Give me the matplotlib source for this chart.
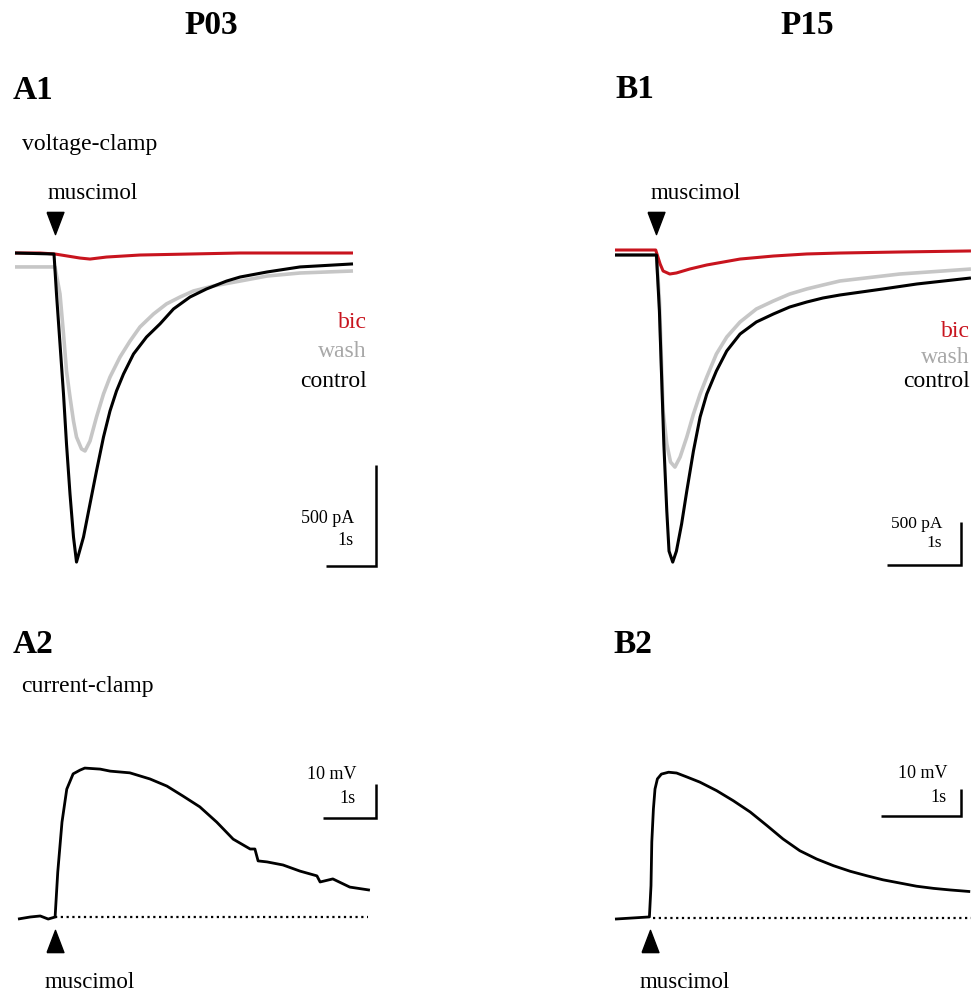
import matplotlib
matplotlib.use('Agg')
import matplotlib.pyplot as plt
from matplotlib.path import Path

plt.rcParams['font.family'] = ['Liberation Serif', 'DejaVu Serif']

W, H = 971, 995

## Voltage-clamp traces, P03 (time in s, current in pA)
a1_ctrl_t = [0, 0.78, 0.83, 0.90, 0.97, 1.03, 1.10, 1.17, 1.23, 1.37, 1.50, 1.63, 1.77, 1.90, 2.03, 2.17,
             2.37, 2.63, 2.90, 3.17, 3.50, 3.83, 4.23, 4.50, 5.04, 5.70, 6.76]
a1_ctrl_i = [0, -5, -203, -450, -698, -945, -1193, -1406, -1530, -1406, -1242, -1079, -911, -782, -683, -599,
             -500, -416, -351, -277, -218, -178, -139, -119, -94, -69, -54]
a1_wash_t = [0, 0.80, 0.90, 0.97, 1.03, 1.10, 1.17, 1.23, 1.33, 1.40, 1.50, 1.63, 1.77, 1.90, 2.10, 2.30,
             2.50, 2.77, 3.03, 3.30, 3.57, 3.97, 4.50, 5.04, 5.70, 6.76]
a1_wash_i = [-69, -69, -203, -401, -584, -713, -832, -911, -970, -980, -931, -812, -698, -614, -515, -436,
             -366, -302, -252, -218, -188, -163, -139, -114, -99, -89]
a1_bic_t = [0, 0.50, 0.80, 1.30, 1.50, 1.83, 2.50, 4.50, 6.76]
a1_bic_i = [0, 0, -5, -25, -30, -20, -10, 0, 0]

## Voltage-clamp traces, P15
b1_ctrl_t = [0, 0.56, 0.60, 0.63, 0.66, 0.70, 0.73, 0.78, 0.83, 0.90, 0.97, 1.06, 1.15, 1.24, 1.37, 1.51,
             1.69, 1.91, 2.14, 2.36, 2.59, 2.81, 3.04, 3.62, 4.08, 4.81]
b1_ctrl_i = [0, 0, -648, -1419, -2198, -2977, -3443, -3571, -3443, -3128, -2745, -2279, -1884, -1617, -1349, -1116,
             -919, -779, -686, -605, -547, -500, -465, -395, -337, -267]
b1_wash_t = [0, 0.56, 0.60, 0.62, 0.65, 0.70, 0.75, 0.81, 0.88, 0.97, 1.06, 1.15, 1.24, 1.37, 1.51, 1.69,
             1.91, 2.14, 2.36, 2.59, 2.81, 3.04, 3.85, 4.81]
b1_wash_i = [0, 0, -512, -1035, -1814, -2198, -2407, -2466, -2349, -2117, -1849, -1617, -1419, -1151, -954, -779,
             -628, -535, -454, -395, -349, -302, -221, -163]
b1_bic_t = [0, 0.55, 0.61, 0.65, 0.74, 0.83, 1.01, 1.24, 1.69, 2.14, 2.59, 3.04, 3.85, 4.81]
b1_bic_i = [58, 58, -105, -186, -221, -209, -163, -116, -47, -12, 12, 23, 35, 47]

## Current-clamp traces (time in s, voltage in mV from rest)
a2_t = [0, 0.23, 0.42, 0.57, 0.70, 0.75, 0.83, 0.92, 1.04, 1.17, 1.26, 1.55, 1.74, 2.11, 2.49, 2.81, 3.11,
        3.43, 3.75, 4.06, 4.38, 4.47, 4.53, 4.70, 5.00, 5.32, 5.64, 5.70, 5.94, 6.26, 6.64]
a2_v = [-0.6, 0, 0.3, -0.6, 0, 13.2, 27.9, 37.6, 42.1, 43.2, 43.8, 43.5, 42.9, 42.4, 40.6, 38.5, 35.6,
        32.4, 27.9, 22.9, 20.0, 20.0, 16.5, 16.2, 15.3, 13.5, 12.1, 10.3, 11.2, 8.8, 7.9]
b2_t = [0, 0.43, 0.45, 0.46, 0.48, 0.50, 0.53, 0.58, 0.67, 0.77, 0.90, 1.06, 1.27, 1.48, 1.69, 1.90, 2.10,
        2.31, 2.52, 2.73, 2.94, 3.15, 3.35, 3.56, 3.77, 3.98, 4.19, 4.44]
b2_v = [-0.4, 0.4, 12.1, 28.5, 40.8, 48.3, 52.1, 53.9, 54.6, 54.3, 52.8, 50.9, 47.7, 43.9, 39.7, 34.6, 29.6,
        25.2, 22.1, 19.6, 17.5, 15.8, 14.3, 13.1, 11.9, 11.1, 10.5, 9.9]

RED = '#c8141e'
GREY = '#c6c6c6'

# tall down/up triangles for the muscimol arrows
tri_down = Path([(-0.38, 0.5), (0.38, 0.5), (0, -0.5), (-0.38, 0.5)])
tri_up = Path([(-0.38, -0.5), (0.38, -0.5), (0, 0.5), (-0.38, -0.5)])


def panel(fig, left, right, top, bottom, x0, y0, px_x, px_y):
    # axes placed in a pixel box, data origin at pixel (x0, y0), px per unit
    ax = fig.add_axes([left / W, 1 - bottom / H, (right - left) / W, (bottom - top) / H])
    ax.set_xlim((left - x0) / px_x, (right - x0) / px_x)
    ax.set_ylim((y0 - bottom) / px_y, (y0 - top) / px_y)
    ax.axis('off')
    return ax


def ftext(x, y, s, **kw):
    fig.text(x / W, 1 - y / H, s, va='baseline', **kw)


def trace(ax, t, v, color, lw):
    ax.plot(t, v, color=color, lw=lw, solid_joinstyle='round', solid_capstyle='butt')


def scale_bar(ax, tx, ty, dx, dy):
    ax.plot([tx - dx, tx, tx], [ty, ty, ty + dy], color='k', lw=1.8,
            solid_joinstyle='miter', solid_capstyle='butt', clip_on=False)


fig = plt.figure(figsize=(W / 100, H / 100), dpi=100)

# A1
ax = panel(fig, 0, 400, 200, 600, 15, 254, 50, 101 / 500)
trace(ax, a1_wash_t, a1_wash_i, GREY, 2.6)
trace(ax, a1_bic_t, a1_bic_i, RED, 2.2)
trace(ax, a1_ctrl_t, a1_ctrl_i, 'k', 2.2)
ax.plot([0.8], [148], marker=tri_down, ms=16, color='k', ls='none')
scale_bar(ax, 7.22, -1550, 1, 500)

# B1
ax = panel(fig, 600, 971, 200, 600, 615, 256, 74, 43 / 500)
trace(ax, b1_wash_t, b1_wash_i, GREY, 2.6)
trace(ax, b1_bic_t, b1_bic_i, RED, 2.2)
trace(ax, b1_ctrl_t, b1_ctrl_i, 'k', 2.2)
ax.plot([0.55], [372], marker=tri_down, ms=16, color='k', ls='none')
scale_bar(ax, 4.68, -3605, 1, 500)

# A2
ax = panel(fig, 0, 400, 740, 995, 18, 918, 53, 3.4)
ax.plot([0.70, 6.6], [0, 0], color='k', lw=1.6, ls=(0, (1, 1.6)))
trace(ax, a2_t, a2_v, 'k', 2.0)
ax.plot([0.70], [-7], marker=tri_up, ms=16, color='k', ls='none')
scale_bar(ax, 6.75, 29.1, 1, 10)

# B2
ax = panel(fig, 600, 971, 740, 995, 615, 919, 80, 2.67)
ax.plot([0.48, 5.0], [0, 0], color='k', lw=1.6, ls=(0, (1, 1.6)))
trace(ax, b2_t, b2_v, 'k', 2.0)
ax.plot([0.44], [-8.5], marker=tri_up, ms=16, color='k', ls='none')
scale_bar(ax, 4.325, 38.3, 1, 10)

# titles and panel letters
ftext(211, 34, 'P03', fontsize=24, fontweight='bold', ha='center')
ftext(807, 34, 'P15', fontsize=24, fontweight='bold', ha='center')
for x, y, s in [(13, 99, 'A1'), (615, 98, 'B1'), (13, 653, 'A2'), (613, 653, 'B2')]:
    ftext(x, y, s, fontsize=24, fontweight='bold', ha='left')
ftext(22, 150, 'voltage-clamp', fontsize=17)
ftext(21, 692, 'current-clamp', fontsize=17)

# muscimol labels
ftext(48, 199, 'muscimol', fontsize=16.5)
ftext(651, 199, 'muscimol', fontsize=16.5)
ftext(45, 988, 'muscimol', fontsize=16.5)
ftext(640, 988, 'muscimol', fontsize=16.5)

# trace labels
for x, ys in [(367, (328, 357, 387)), (970, (337, 363, 387))]:
    ftext(x, ys[0], 'bic', fontsize=17, color=RED, ha='right')
    ftext(x, ys[1], 'wash', fontsize=17, color='#a8a8a8', ha='right')
    ftext(x, ys[2], 'control', fontsize=17, color='k', ha='right')

# scale bar labels
ftext(354, 523, '500 pA', fontsize=13, ha='right')
ftext(354, 545, '1s', fontsize=13, ha='right')
ftext(942, 528, '500 pA', fontsize=12.5, ha='right')
ftext(942, 547, '1s', fontsize=12.5, ha='right')
ftext(356, 779, '10 mV', fontsize=13, ha='right')
ftext(356, 803, '1s', fontsize=13, ha='right')
ftext(947, 778, '10 mV', fontsize=13, ha='right')
ftext(947, 802, '1s', fontsize=13, ha='right')

fig.savefig('out.png', dpi=100, facecolor='white')
